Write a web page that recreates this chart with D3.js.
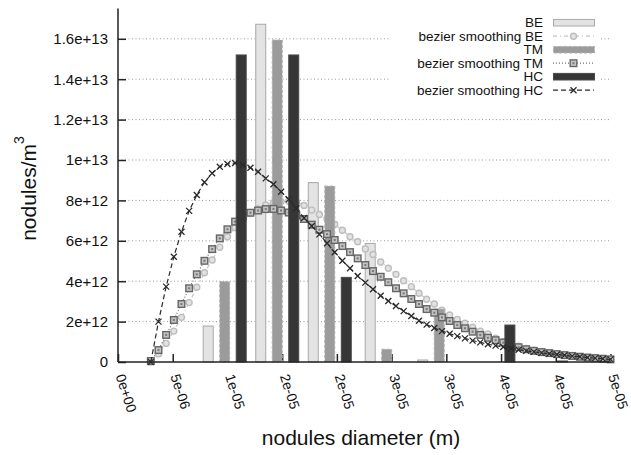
<!DOCTYPE html>
<html>
<head>
<meta charset="utf-8">
<script src="https://cdn.jsdelivr.net/npm/d3@7"></script>
<style>
  body { margin: 0; background: #fff; }
  text { font-family: "Liberation Sans", Arial, sans-serif; fill: #111; }
</style>
</head>
<body>
<div id="chart"></div>
<script>
// series names, in the order gnuplot drew them
var series = ["BE", "TM", "HC"];

// histogram bin centres (micrometres) and heights (1e12 nodules/m3)
var binCenters = [9.75, 14.55, 19.35, 24.55, 29.35, 34.3, 39.1];
var barsBE = [1.78, 16.72, 8.88, 5.87, 0.1, 0, 0];
var barsTM = [3.98, 15.94, 8.71, 0.63, 2.62, 0, 0];
var barsHC = [15.2, 15.2, 4.19, 0, 0, 1.83, 0.05];

// bezier smoothing samples (diameter in micrometres, value in 1e12)
var curveX = [3.0,3.7,4.4,5.1,5.8,6.5,7.2,7.9,8.6,9.3,
    10.0,10.7,11.4,12.1,12.8,13.5,14.2,14.9,15.6,16.3,
    17.0,17.7,18.4,19.1,19.8,20.5,21.2,21.9,22.6,23.3,
    24.0,24.7,25.4,26.1,26.8,27.5,28.2,28.9,29.6,30.3,
    31.0,31.7,32.4,33.1,33.8,34.5,35.2,35.9,36.6,37.3,
    38.0,38.7,39.4,40.1,40.8,41.5,42.2,42.9,43.6,44.3,
    45.0];
var curveBE = [0,0.4,0.92,1.53,2.21,2.94,3.7,4.42,5.05,5.68,
    6.2,6.65,7.05,7.35,7.58,7.77,7.88,7.94,7.96,7.92,
    7.75,7.52,7.3,7.08,6.82,6.52,6.2,5.95,5.6,5.32,
    4.95,4.64,4.34,4.02,3.73,3.4,3.11,2.87,2.57,2.33,
    2.11,1.92,1.72,1.53,1.39,1.18,1.02,0.9,0.78,0.67,
    0.58,0.51,0.45,0.4,0.35,0.31,0.27,0.23,0.2,0.17,
    0.14];
var curveTM = [0.05,0.59,1.34,2.08,2.87,3.65,4.34,5.01,5.59,6.12,
    6.57,6.95,7.2,7.39,7.5,7.57,7.58,7.5,7.4,7.25,
    7.08,6.8,6.55,6.33,6.04,5.74,5.44,5.13,4.8,4.5,
    4.22,3.95,3.65,3.4,3.12,2.87,2.62,2.44,2.21,2.03,
    1.83,1.67,1.5,1.34,1.2,1.08,0.96,0.84,0.73,0.63,
    0.55,0.49,0.44,0.39,0.34,0.30,0.26,0.22,0.19,0.16,
    0.13];
var curveHC = [0,2.0,3.73,5.21,6.45,7.48,8.27,8.9,9.34,9.67,
    9.80,9.85,9.76,9.62,9.42,9.09,8.80,8.43,8.05,7.61,
    7.13,6.73,6.32,5.88,5.43,5.01,4.64,4.26,3.93,3.6,
    3.28,3.02,2.77,2.52,2.28,2.04,1.85,1.68,1.53,1.40,
    1.28,1.17,1.06,0.97,0.88,0.81,0.74,0.67,0.61,0.55,
    0.50,0.45,0.41,0.37,0.33,0.29,0.26,0.22,0.19,0.16,
    0.13];

// axis ticks
var xTicks = [0, 5, 10, 15, 20, 25, 30, 35, 40, 45];
var xTickLabels = ["0e+00","5e-06","1e-05","2e-05","2e-05","3e-05","3e-05","4e-05","4e-05","5e-05"];
var yTicks = [0, 2, 4, 6, 8, 10, 12, 14, 16];
var yTickLabels = ["0","2e+12","4e+12","6e+12","8e+12","1e+13","1.2e+13","1.4e+13","1.6e+13"];

var width = 631, height = 455;

var svg = d3.select("#chart").append("svg")
    .attr("width", width)
    .attr("height", height);

var x = d3.scaleLinear().domain([0, 45]).range([118, 610.5]);
var y = d3.scaleLinear().domain([0, 17.5]).range([362, 8.5]);

// offset of each series inside a histogram group
var sub = d3.scaleBand().domain(series).range([-24.75, 24.75])
    .paddingInner(1/3).paddingOuter(1/6);

//grid lines
svg.append("g").selectAll("line")
    .data(yTicks.filter(function(d){ return d > 0; }))
    .enter().append("line")
    .attr("x1", x(0)).attr("x2", 610)
    .attr("y1", function(d){ return y(d); })
    .attr("y2", function(d){ return y(d); })
    .attr("stroke", "#9a9a9a")
    .attr("stroke-width", 1)
    .attr("stroke-dasharray", "1,2.5");

// tick marks and labels (behind the boxes)
var xAxis = svg.append("g")
    .attr("transform", "translate(0," + y(0) + ")")
    .call(d3.axisBottom(x).tickValues(xTicks)
        .tickFormat(function(d, i){ return xTickLabels[i]; })
        .tickSizeInner(-8).tickSizeOuter(0));
xAxis.select(".domain").remove();
xAxis.selectAll("line").attr("stroke", "#222").attr("stroke-width", 1.5);
xAxis.selectAll("text")
    .attr("x", 0).attr("y", 0).attr("dy", 0)
    .attr("transform", "translate(-3,14) rotate(72)")
    .style("text-anchor", "start")
    .style("font-size", "14px")
    .style("fill", "#111");

var yAxis = svg.append("g")
    .attr("transform", "translate(" + x(0) + ",0)")
    .call(d3.axisLeft(y).tickValues(yTicks)
        .tickFormat(function(d, i){ return yTickLabels[i]; })
        .tickSizeInner(-8).tickSizeOuter(0).tickPadding(10));
yAxis.select(".domain").remove();
yAxis.selectAll("line").attr("stroke", "#222").attr("stroke-width", 1.5);
yAxis.selectAll("text")
    .style("font-size", "15px")
    .style("fill", "#111");

var barStyle = {
    BE: {fill: "#e3e3e3", stroke: "#a8a8a8", dash: null},
    TM: {fill: "#9b9b9b", stroke: "#b0b0b0", dash: "3,2"},
    HC: {fill: "#363636", stroke: "#4a4a4a", dash: null}
};
var barValues = {BE: barsBE, TM: barsTM, HC: barsHC};
var curveValues = {BE: curveBE, TM: curveTM, HC: curveHC};

var line = d3.line()
    .x(function(d){ return x(d[0]); })
    .y(function(d){ return y(d[1]); });

function drawBars(name){
    var st = barStyle[name];
    svg.append("g").selectAll("rect")
        .data(binCenters.map(function(c, i){ return [c, barValues[name][i]]; }))
        .enter().append("rect")
        .attr("x", function(d){ return x(d[0]) + sub(name) + 0.5; })
        .attr("width", sub.bandwidth() - 1)
        .attr("y", function(d){ return y(d[1]); })
        .attr("height", function(d){ return y(0) - y(d[1]); })
        .attr("fill", st.fill)
        .attr("stroke", st.stroke)
        .attr("stroke-width", 1)
        .attr("stroke-dasharray", st.dash);
}

function drawMarker(g, name, cx, cy){
    if (name == "BE") {
        g.append("circle")
            .attr("cx", cx).attr("cy", cy).attr("r", 3)
            .attr("fill", "#e2e2e2")
            .attr("stroke", "#bdbdbd")
            .attr("stroke-width", 1.4);
    } else if (name == "TM") {
        g.append("rect")
            .attr("x", cx - 3.3).attr("y", cy - 3.3)
            .attr("width", 6.6).attr("height", 6.6)
            .attr("fill", "#c4c4c4")
            .attr("stroke", "#666")
            .attr("stroke-width", 1.4);
        g.append("rect")
            .attr("x", cx - 1).attr("y", cy - 1)
            .attr("width", 2).attr("height", 2)
            .attr("fill", "#777");
    } else {
        g.append("path")
            .attr("d", "M" + (cx - 3) + "," + (cy - 3) + "L" + (cx + 3) + "," + (cy + 3) +
                "M" + (cx - 3) + "," + (cy + 3) + "L" + (cx + 3) + "," + (cy - 3))
            .attr("stroke", "#2a2a2a")
            .attr("stroke-width", 1.3)
            .attr("fill", "none");
    }
}

var lineStyle = {
    BE: {stroke: "#c4c4c4", dash: "4,3,1,3", w: 1.2},
    TM: {stroke: "#6e6e6e", dash: "1,2", w: 1.2},
    HC: {stroke: "#2a2a2a", dash: "5,3", w: 1.2}
};

function drawCurve(name){
    var st = lineStyle[name];
    var pts = curveX.map(function(c, i){ return [c, curveValues[name][i]]; });
    var g = svg.append("g");
    g.append("path")
        .datum(pts)
        .attr("d", line)
        .attr("fill", "none")
        .attr("stroke", st.stroke)
        .attr("stroke-width", st.w)
        .attr("stroke-dasharray", st.dash);
    pts.forEach(function(p){
        drawMarker(g, name, x(p[0]), y(p[1]));
    });
}

series.forEach(function(name){
    drawBars(name);
    drawCurve(name);
});

// axis lines on top
svg.append("line")
    .attr("x1", x(0)).attr("x2", x(0))
    .attr("y1", y(0)).attr("y2", y(17.5))
    .attr("stroke", "#222").attr("stroke-width", 1.5);
svg.append("line")
    .attr("x1", x(0)).attr("x2", x(45) + 1)
    .attr("y1", y(0)).attr("y2", y(0))
    .attr("stroke", "#222").attr("stroke-width", 1.5);

// axis titles
svg.append("text")
    .attr("x", 361).attr("y", 445)
    .attr("text-anchor", "middle")
    .style("font-size", "21px")
    .text("nodules diameter (m)");

var ylab = svg.append("text")
    .attr("transform", "translate(35.5,188.5) rotate(-90)")
    .attr("text-anchor", "middle")
    .style("font-size", "21px");
ylab.append("tspan").text("nodules/m");
ylab.append("tspan").attr("dy", -12).style("font-size", "14px").text("3");

// legend
var legendRows = ["BE", "bezier smoothing BE", "TM", "bezier smoothing TM", "HC", "bezier smoothing HC"];
var legend = svg.append("g");
legend.append("rect")
    .attr("x", 390).attr("y", 14).attr("width", 211).attr("height", 84)
    .attr("fill", "#fff");

legendRows.forEach(function(label, i){
    var ry = 22.7 + i * 13.5;
    var name = series[Math.floor(i / 2)];
    legend.append("text")
        .attr("x", 543).attr("y", ry)
        .attr("dy", "0.35em")
        .attr("text-anchor", "end")
        .style("font-size", "13.5px")
        .text(label);
    if (i % 2 == 0) {
        var st = barStyle[name];
        legend.append("rect")
            .attr("x", 553.5).attr("y", ry - 3.3)
            .attr("width", 41).attr("height", 6.6)
            .attr("fill", st.fill)
            .attr("stroke", st.stroke)
            .attr("stroke-dasharray", st.dash);
    } else {
        var ls = lineStyle[name];
        legend.append("line")
            .attr("x1", 553).attr("x2", 594)
            .attr("y1", ry).attr("y2", ry)
            .attr("stroke", ls.stroke)
            .attr("stroke-width", ls.w)
            .attr("stroke-dasharray", ls.dash);
        drawMarker(legend, name, 573.5, ry);
    }
});
</script>
</body>
</html>
